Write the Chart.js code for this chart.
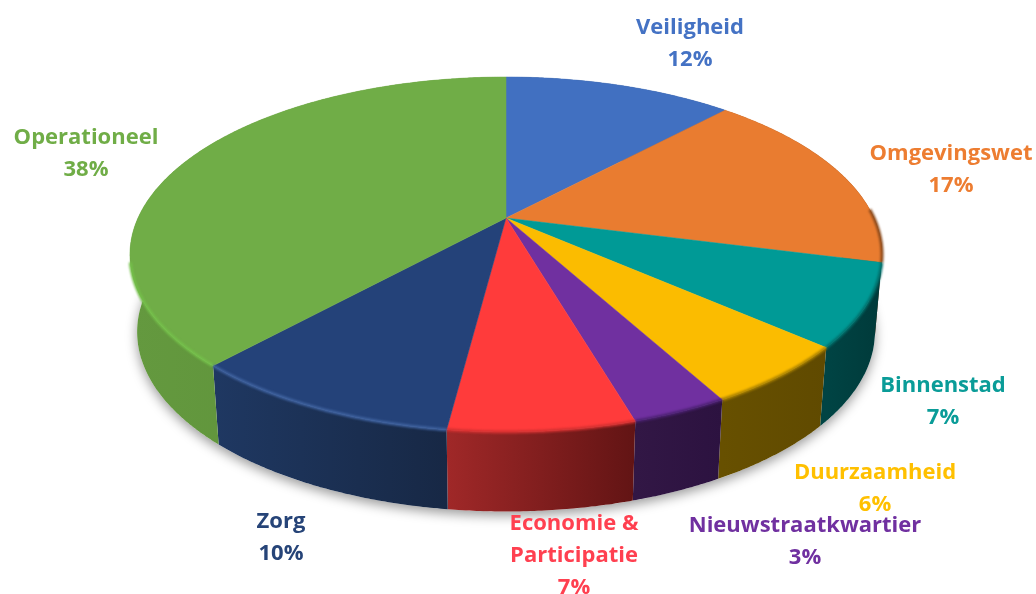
<!DOCTYPE html>
<html lang="nl">
<head>
<meta charset="utf-8">
<title>Verdeling</title>
<script src="https://cdn.jsdelivr.net/npm/chart.js@4"></script>
<style>
    html, body { margin: 0; padding: 0; background: #fff; }
    canvas { display: block; filter: blur(0.5px); }
</style>
</head>
<body>
<canvas id="pie" width="1036" height="594"></canvas>
<script>
// Data
const categories = ["Veiligheid", "Omgevingswet", "Binnenstad", "Duurzaamheid", "Nieuwstraatkwartier", "Economie & Participatie", "Zorg", "Operationeel"];
const values = [12, 17, 7.45, 5.55, 3.45, 6.6, 9.75, 38.2];

// Colours per slice
const topColors = ["#4170c1", "#e97c30", "#009a96", "#fbbc00", "#7030a0", "#ff3b3b", "#244279", "#70ad47"];
const wallLeft = ["#2a4a80", "#8a4a1c", "#004444", "#675000", "#321745", "#a02828", "#1f3862", "#64993f"];
const wallRight = ["#2a4a80", "#5c3010", "#003a3a", "#604a00", "#2c1240", "#621414", "#172845", "#5b8e36"];
const rimColors = ["#4a7bd0", "#8a4a1c", "#006e6a", "#a88000", "#4a2070", "#d03030", "#3f629f", "#74c04a"];
const textColors = ["#4472c4", "#ed7d31", "#0a9c98", "#ffc000", "#7030a0", "#ff4050", "#264478", "#70ad47"];

// Label lines: name lines with their centre, the percentage goes under them
const labelLines = [["Veiligheid"], ["Omgevingswet"], ["Binnenstad"], ["Duurzaamheid"], ["Nieuwstraatkwartier"], ["Economie &", "Participatie"], ["Zorg"], ["Operationeel"]];
const labelX = [690, 951, 943, 875, 805, 574, 281, 86];
const labelY = [28, 154, 386, 473, 526, 524, 522, 138];
const lineStep = 32;

// Perspective of the disc
const view = { cx: 506, k: 0.2056 };
const topFace = { cy: 218, rx: 368, ry: 170 };
const bottomFace = { cy: 295, rx: 361, ry: 172 };

function project(face, angle) {
    const theta = angle + Math.PI / 2;
    const u = Math.sin(theta);
    const v = -Math.cos(theta);
    const d = 1 - view.k * v;
    return [view.cx + face.rx * u / d, face.cy + face.ry * v / d];
}

function arcPoints(face, start, end) {
    const pts = [];
    const steps = Math.max(2, Math.ceil((end - start) / 0.008));
    for (let i = 0; i <= steps; i++) {
        pts.push(project(face, start + (end - start) * i / steps));
    }
    return pts;
}

function tracePoints(ctx, pts, moveFirst) {
    pts.forEach((p, i) => {
        if (i === 0 && moveFirst) ctx.moveTo(p[0], p[1]);
        else ctx.lineTo(p[0], p[1]);
    });
}

const disc3d = {
    id: "disc3d",
    beforeDatasetsDraw(chart) {
        const ctx = chart.ctx;
        const arcs = chart.getDatasetMeta(0).data;
        ctx.save();

        // soft shadow under the disc
        ctx.save();
        ctx.shadowColor = "rgba(0,0,0,0.4)";
        ctx.shadowBlur = 12;
        ctx.shadowOffsetY = 4;
        ctx.fillStyle = "#fff";
        ctx.beginPath();
        tracePoints(ctx, arcPoints(bottomFace, -Math.PI / 2, Math.PI * 1.5), true);
        ctx.closePath();
        ctx.fill();
        ctx.restore();

        // walls
        arcs.forEach((arc, i) => {
            const top = arcPoints(topFace, arc.startAngle, arc.endAngle);
            const bottom = arcPoints(bottomFace, arc.startAngle, arc.endAngle).reverse();
            const xs = top.map((p) => p[0]);
            const grad = ctx.createLinearGradient(Math.min(...xs), 0, Math.max(...xs), 0);
            grad.addColorStop(0, wallLeft[i]);
            grad.addColorStop(1, wallRight[i]);
            ctx.fillStyle = grad;
            ctx.beginPath();
            tracePoints(ctx, top, true);
            tracePoints(ctx, bottom, false);
            ctx.closePath();
            ctx.fill();
        });

        // top faces
        const apex = [view.cx, topFace.cy];
        arcs.forEach((arc, i) => {
            ctx.fillStyle = topColors[i];
            ctx.strokeStyle = topColors[i];
            ctx.lineWidth = 0.5;
            ctx.beginPath();
            ctx.moveTo(apex[0], apex[1]);
            tracePoints(ctx, arcPoints(topFace, arc.startAngle, arc.endAngle), false);
            ctx.closePath();
            ctx.fill();
            ctx.stroke();
        });

        // bevel along the front part of the rim only
        const rimFrom = -0.05;
        const rimTo = Math.PI - 0.25;
        ctx.filter = "blur(1px)";
        ctx.lineWidth = 3;
        arcs.forEach((arc, i) => {
            const start = Math.max(arc.startAngle, rimFrom);
            const end = Math.min(arc.endAngle, rimTo);
            if (end <= start) return;
            ctx.strokeStyle = rimColors[i];
            ctx.beginPath();
            tracePoints(ctx, arcPoints(topFace, start, end), true);
            ctx.stroke();
        });
        ctx.restore();
        return false;
    },
    afterDraw(chart) {
        const ctx = chart.ctx;
        ctx.save();
        ctx.font = "bold 22px 'Open Sans'";
        ctx.textAlign = "center";
        ctx.textBaseline = "middle";
        labelLines.forEach((lines, i) => {
            ctx.fillStyle = textColors[i];
            const rows = lines.concat(Math.round(values[i]) + "%");
            rows.forEach((row, r) => {
                ctx.fillText(row, labelX[i], labelY[i] + r * lineStep);
            });
        });
        ctx.restore();
    },
};

const sliceChart = new Chart(document.getElementById("pie").getContext("2d"), {
    type: "pie",
    data: {
        labels: categories,
        datasets: [{ data: values, backgroundColor: topColors, borderWidth: 0 }],
    },
    options: {
        responsive: false,
        animation: false,
        plugins: {
            legend: { display: false },
            tooltip: { enabled: false },
        },
    },
    plugins: [disc3d],
});
</script>
</body>
</html>
